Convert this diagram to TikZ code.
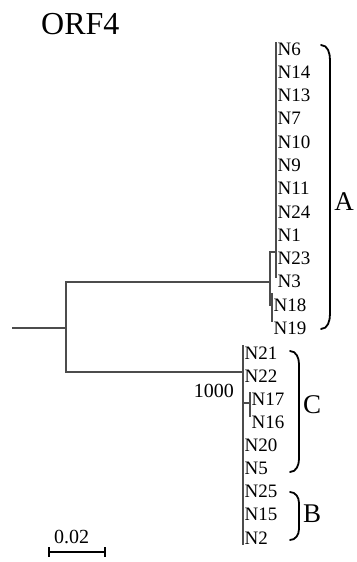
\documentclass[tikz,border=0pt]{standalone}
\usepackage{fontspec}
\setmainfont{Liberation Serif}
\begin{document}
\begin{tikzpicture}[x=1pt,y=-1pt,
  br/.style={line width=1.2pt, draw=black!70},
  leaf/.style={anchor=west, inner sep=0pt, font=\fontsize{19}{20}\selectfont},
  brk/.style={line width=1.8pt, line cap=round},
  clab/.style={inner sep=0pt, font=\fontsize{27}{28}\selectfont},
  small/.style={inner sep=0pt, font=\fontsize{20}{21}\selectfont}]
\useasboundingbox (0,0) rectangle (356,562);
% title
\node[anchor=base west, inner sep=0pt, font=\fontsize{32}{34}\selectfont] (title) at (41,34) {ORF4};
% leaves cluster A
\foreach \n [count=\i from 0] in {6,14,13,7,10,9,11,24,1,23,3}
  \node[leaf] (N\n) at (277.5,{49+23.25*\i}) {N\n};
\node[leaf] (N18) at (273.5,305) {N18};
\node[leaf] (N19) at (273.5,328) {N19};
% leaves C and B
\node[leaf] (N21) at (244.5,353) {N21};
\node[leaf] (N22) at (244.5,376) {N22};
\node[leaf] (N17) at (251.5,399) {N17};
\node[leaf] (N16) at (251.5,422) {N16};
\node[leaf] (N20) at (244.5,445) {N20};
\node[leaf] (N5) at (244.5,468.5) {N5};
\node[leaf] (N25) at (244.5,491.5) {N25};
\node[leaf] (N15) at (244.5,514.5) {N15};
\node[leaf] (N2) at (244.5,538) {N2};
% tree coordinates
\coordinate (root) at (12,328);
\coordinate (n0) at (66,328);
\coordinate (nA) at (270,282);
\coordinate (nC) at (243,372);
\coordinate (nA1) at (276,252);
\coordinate (nA2) at (272,305);
\coordinate (a1top) at (276,42);
\coordinate (a1bot) at (276,278);
\coordinate (a2top) at (272,293);
\coordinate (a2bot) at (272,322);
\coordinate (ctop) at (243,345);
\coordinate (cbot) at (243,545);
\coordinate (cst) at (243,403);
\coordinate (nC1) at (250,403);
\coordinate (c1top) at (250,392);
\coordinate (c1bot) at (250,417);
% tree
\draw[br] (root) -- (n0);
\draw[br] (nA) -| (n0) |- (nC);
\draw[br] (nA1) -| (nA) |- (nA2);
\draw[br] (a1top) -- (a1bot);
\draw[br] (a2top) -- (a2bot);
\draw[br] (ctop) -- (cbot);
\draw[br] (cst) -- (nC1);
\draw[br] (c1top) -- (c1bot);
% bootstrap
\node[small, anchor=east] (boot) at (234,391) {1000};
% brackets
\draw[brk] (321,45) to[out=0,in=90] (330,60) -- (330,314) to[out=-90,in=0] (321,329);
\draw[brk] (290,351) to[out=0,in=90] (299,364) -- (299,459) to[out=-90,in=0] (290,472);
\draw[brk] (290,492) to[out=0,in=90] (299,503) -- (299,529) to[out=-90,in=0] (290,540);
\node[clab] (labA) at (344,202) {A};
\node[clab] (labC) at (312,405) {C};
\node[clab] (labB) at (312,514) {B};
% scale bar
\coordinate (s1) at (49,552);
\coordinate (s2) at (105,552);
\draw[line width=1.2pt] (s1) -- (s2);
\draw[line width=1.2pt] (49,547) -- (49,557);
\draw[line width=1.2pt] (105,547) -- (105,557);
\node[small, anchor=base west] (scale) at (54,543) {0.02};
\end{tikzpicture}
\end{document}
